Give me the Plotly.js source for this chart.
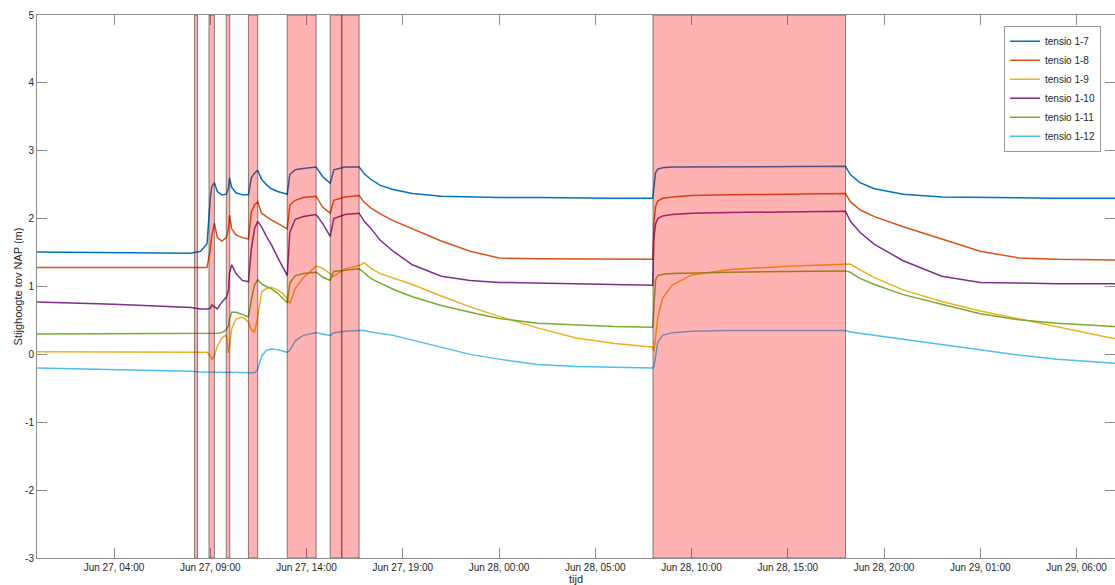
<!DOCTYPE html>
<html>
<head>
<meta charset="utf-8">
<script src="https://cdn.plot.ly/plotly-3.0.1.min.js"></script>
<style>html,body{margin:0;padding:0;background:#fff}#chart{width:1115px;height:585px}</style>
</head>
<body>
<div id="chart"></div>
<script>
// ---- data ----
const times = [
  '2017-06-27 00:00','2017-06-27 04:00','2017-06-27 08:00','2017-06-27 08:30','2017-06-27 08:50',
  '2017-06-27 09:00','2017-06-27 09:05','2017-06-27 09:13','2017-06-27 09:22','2017-06-27 09:36',
  '2017-06-27 09:50','2017-06-27 09:57','2017-06-27 10:00','2017-06-27 10:07','2017-06-27 10:20',
  '2017-06-27 10:40','2017-06-27 10:59','2017-06-27 11:08','2017-06-27 11:18','2017-06-27 11:28',
  '2017-06-27 11:40','2017-06-27 11:55','2017-06-27 12:10','2017-06-27 12:30','2017-06-27 12:45',
  '2017-06-27 13:00','2017-06-27 13:08','2017-06-27 13:25','2017-06-27 13:50','2017-06-27 14:30',
  '2017-06-27 14:50','2017-06-27 15:14','2017-06-27 15:25','2017-06-27 16:00','2017-06-27 16:44',
  '2017-06-27 17:00','2017-06-27 17:20','2017-06-27 17:50','2017-06-27 18:30','2017-06-27 19:30',
  '2017-06-27 21:00','2017-06-27 22:30','2017-06-28 00:00','2017-06-28 02:00','2017-06-28 04:00',
  '2017-06-28 06:00','2017-06-28 07:59','2017-06-28 08:03','2017-06-28 08:08','2017-06-28 08:15',
  '2017-06-28 08:30','2017-06-28 09:00','2017-06-28 10:00','2017-06-28 12:00','2017-06-28 15:00',
  '2017-06-28 18:00','2017-06-28 18:15','2017-06-28 18:45','2017-06-28 19:30','2017-06-28 21:00',
  '2017-06-28 23:00','2017-06-29 01:00','2017-06-29 03:00','2017-06-29 05:00','2017-06-29 08:00'
];
const tensio1_7 = [
  1.51,1.50,1.49,1.52,1.63, 2.30,2.47,2.53,2.40,2.35, 2.36,2.45,2.60,2.46,2.38,
  2.35,2.35,2.60,2.67,2.71, 2.58,2.50,2.44,2.40,2.38, 2.36,2.65,2.72,2.74,2.76,
  2.62,2.52,2.72,2.76,2.76, 2.66,2.58,2.49,2.43,2.37, 2.33,2.32,2.31,2.31,2.30,
  2.30,2.30,2.50,2.68,2.73, 2.75,2.76,2.76,2.77,2.77, 2.77,2.65,2.53,2.44,2.36,
  2.32,2.31,2.30,2.30,2.30
];
const tensio1_8 = [
  1.28,1.28,1.28,1.28,1.28, 1.55,1.75,1.93,1.72,1.67, 1.72,1.85,2.05,1.85,1.76,
  1.72,1.70,2.10,2.20,2.25, 2.08,2.03,1.98,1.93,1.89, 1.85,2.20,2.27,2.31,2.33,
  2.17,2.08,2.27,2.32,2.34, 2.24,2.16,2.07,1.97,1.85, 1.67,1.52,1.42,1.41,1.41,
  1.40,1.40,1.95,2.18,2.26, 2.30,2.32,2.34,2.35,2.36, 2.37,2.25,2.13,2.03,1.88,
  1.70,1.52,1.42,1.40,1.39
];
const tensio1_9 = [
  0.04,0.04,0.03,0.03,0.03, -0.02,-0.07,-0.03,0.12,0.24, 0.29,0.02,0.15,0.38,0.52,
  0.55,0.48,0.36,0.33,0.55, 0.92,0.97,0.99,0.95,0.90, 0.82,0.75,0.97,1.13,1.30,
  1.27,1.19,1.15,1.26,1.31, 1.35,1.27,1.19,1.13,1.03, 0.86,0.70,0.56,0.39,0.24,
  0.16,0.11,0.05,0.25,0.55, 0.83,1.02,1.17,1.25,1.30, 1.32,1.33,1.25,1.13,0.95,
  0.78,0.64,0.52,0.40,0.23
];
const tensio1_10 = [
  0.77,0.74,0.69,0.67,0.67, 0.68,0.73,0.70,0.67,0.77, 0.84,0.95,1.20,1.32,1.19,
  1.09,1.07,1.55,1.85,1.96, 1.88,1.74,1.62,1.43,1.30, 1.16,1.80,1.99,2.03,2.06,
  1.93,1.74,2.00,2.06,2.08, 1.96,1.86,1.68,1.52,1.32, 1.15,1.09,1.06,1.05,1.04,
  1.03,1.02,1.72,1.92,2.00, 2.04,2.06,2.08,2.09,2.10, 2.11,1.96,1.80,1.62,1.38,
  1.15,1.06,1.05,1.04,1.04
];
const tensio1_11 = [
  0.30,0.30,0.30,0.30,0.30, 0.30,0.30,0.30,0.31,0.32, 0.36,0.43,0.52,0.62,0.62,
  0.59,0.55,0.80,1.02,1.10, 1.04,1.00,0.97,0.90,0.83, 0.76,1.05,1.16,1.19,1.21,
  1.14,1.09,1.22,1.24,1.26, 1.20,1.12,1.05,0.96,0.85, 0.72,0.62,0.53,0.46,0.43,
  0.41,0.40,0.75,1.10,1.16, 1.18,1.19,1.20,1.21,1.22, 1.23,1.21,1.12,1.03,0.88,
  0.74,0.60,0.51,0.46,0.41
];
const tensio1_12 = [
  -0.20,-0.22,-0.25,-0.26,-0.26, -0.26,-0.26,-0.26,-0.26,-0.26, -0.26,-0.26,-0.26,-0.26,-0.26,
  -0.27,-0.27,-0.27,-0.27,-0.22, -0.03,0.06,0.08,0.07,0.05, 0.03,0.06,0.20,0.28,0.32,
  0.30,0.28,0.32,0.34,0.35, 0.35,0.33,0.31,0.28,0.21, 0.10,0.00,-0.07,-0.15,-0.18,
  -0.19,-0.20,-0.18,0.00,0.18, 0.28,0.32,0.34,0.35,0.35, 0.35,0.33,0.31,0.29,0.23,
  0.15,0.07,-0.01,-0.07,-0.13
];
const seriesNames = ['tensio 1-7','tensio 1-8','tensio 1-9','tensio 1-10','tensio 1-11','tensio 1-12'];
// y-axis ticks (hyphen minus as in the reference)
const yTickVals = [-3, -2, -1, 0, 1, 2, 3, 4, 5];
const yTickText = ['-3', '-2', '-1', '0', '1', '2', '3', '4', '5'];
// shaded periods
const shadeStart = ['2017-06-27 08:11','2017-06-27 08:56','2017-06-27 09:50','2017-06-27 10:59','2017-06-27 13:00','2017-06-27 15:14','2017-06-27 15:50','2017-06-28 08:00'];
const shadeEnd   = ['2017-06-27 08:20','2017-06-27 09:13','2017-06-27 10:01','2017-06-27 11:28','2017-06-27 14:30','2017-06-27 15:50','2017-06-27 16:44','2017-06-28 18:00'];

// ---- styling ----
const colors = ['#0072BD','#D95319','#EDB120','#7E2F8E','#77AC30','#4DBEEE'];
const allSeries = [tensio1_7, tensio1_8, tensio1_9, tensio1_10, tensio1_11, tensio1_12];
const traces = allSeries.map((ys, i) => ({
  type: 'scatter', mode: 'lines', x: times, y: ys, name: seriesNames[i],
  line: {color: colors[i], width: 1.5}
}));

const shapes = shadeStart.map((s, i) => ({
  type: 'rect', xref: 'x', yref: 'y', x0: s, x1: shadeEnd[i], y0: -3, y1: 5,
  fillcolor: 'rgba(255,0,0,0.3)', line: {color: 'rgba(40,40,40,0.55)', width: 1}, layer: 'above'
}));

const fontFam = '"Liberation Sans", Arial, Helvetica, sans-serif';
const axisCol = '#8c8c8c';
const layout = {
  width: 1115, height: 585,
  margin: {l: 37, r: 0, t: 15, b: 27, pad: 0},
  paper_bgcolor: '#fff', plot_bgcolor: '#fff',
  font: {family: fontFam, size: 10, color: '#262626'},
  showlegend: true,
  legend: {
    x: 0.987, xanchor: 'right', y: 0.98, yanchor: 'top',
    bgcolor: '#fff', bordercolor: '#9a9a9a', borderwidth: 1,
    font: {family: fontFam, size: 10, color: '#262626'},
    tracegroupgap: 0, itemwidth: 30
  },
  xaxis: {
    type: 'date', range: ['2017-06-27 00:00', '2017-06-29 08:00'],
    tick0: '2017-06-27 04:00', dtick: 5 * 3600 * 1000,
    tickformat: '%b %d, %H:%M',
    showgrid: false, zeroline: false,
    showline: true, linecolor: axisCol, linewidth: 1, mirror: 'ticks',
    ticks: 'inside', ticklen: 10, tickcolor: axisCol, tickwidth: 1,
    tickfont: {size: 10, color: '#262626'},
    title: {text: 'tijd', font: {size: 11, color: '#262626'}, standoff: 2},
    automargin: false
  },
  yaxis: {
    range: [-3, 5], tickmode: 'array', tickvals: yTickVals, ticktext: yTickText,
    showgrid: false, zeroline: false,
    showline: true, linecolor: axisCol, linewidth: 1, mirror: 'ticks',
    ticks: 'inside', ticklen: 10, tickcolor: axisCol, tickwidth: 1,
    tickfont: {size: 10, color: '#262626'},
    title: {text: 'Stijghoogte tov NAP (m)', font: {size: 11, color: '#262626'}, standoff: 0},
    automargin: false
  },
  shapes: shapes
};

Plotly.newPlot('chart', traces, layout, {displayModeBar: false, staticPlot: true});
</script>
</body>
</html>
